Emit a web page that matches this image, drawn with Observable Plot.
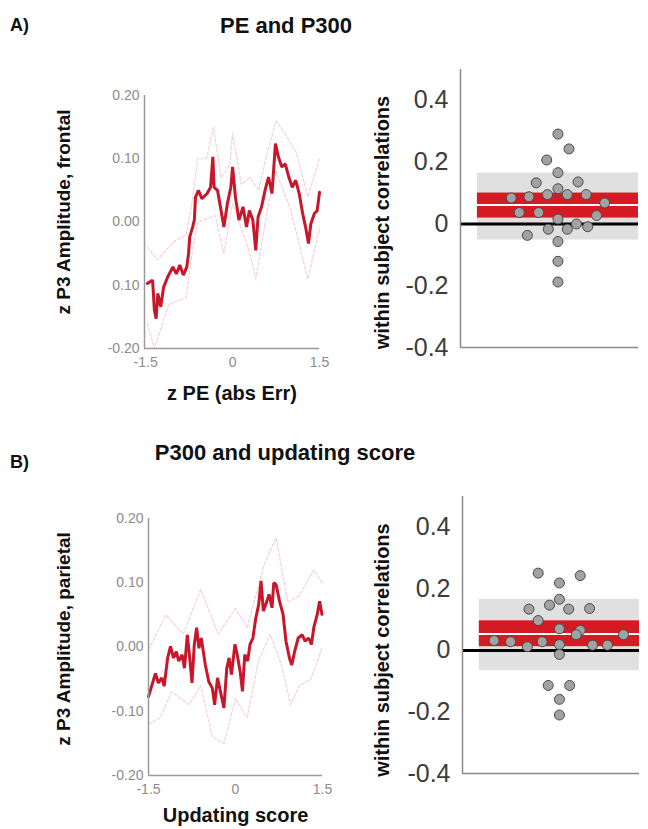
<!DOCTYPE html>
<html>
<head>
<meta charset="utf-8">
<script src="https://cdn.jsdelivr.net/npm/d3@7"></script>
<script src="https://cdn.jsdelivr.net/npm/@observablehq/plot@0.6"></script>
<style>
  html, body { margin: 0; padding: 0; background: #fff; }
  #fig { position: relative; width: 648px; height: 829px; overflow: hidden; font-family: "Liberation Sans", Arial, sans-serif; }
  .panel { position: absolute; }
  .ttl { position: absolute; font-weight: bold; color: #111; white-space: nowrap; line-height: 1; }
</style>
</head>
<body>
<div id="fig"></div>
<script>
// ---------------- DATA ----------------
const titles = ["PE and P300", "P300 and updating score"];
const panelTags = ["A)", "B)"];
const xLabels = ["z PE (abs Err)", "Updating score"];
const yLabelsLeft = ["z P3 Amplitude, frontal", "z P3 Amplitude, parietal"];
const yLabelRight = "within subject correlations";

const xTicksLeft = [-1.5, 0, 1.5];
const xTickLabelsLeft = ["-1.5", "0", "1.5"];
const yTicksLeft = [-0.2, -0.1, 0, 0.1, 0.2];
const yTickLabelsA = ["-0.20", "0.10", "0.00", "0.10", "0.20"];
const yTickLabelsB = ["-0.20", "-0.10", "0.00", "0.10", "0.20"];
const yTicksRight = [-0.4, -0.2, 0, 0.2, 0.4];
const yTickLabelsRight = ["-0.4", "-0.2", "0", "0.2", "0.4"];

// Panel A left: running mean (x = z PE, y = z P3 frontal)
const lineA = [[-1.47,-0.097],[-1.38,-0.092],[-1.35,-0.139],[-1.32,-0.153],[-1.29,-0.113],[-1.24,-0.134],[-1.19,-0.103],[-1.12,-0.087],[-1.03,-0.071],[-0.97,-0.082],[-0.91,-0.068],[-0.85,-0.084],[-0.79,-0.071],[-0.76,-0.05],[-0.74,-0.024],[-0.69,-0.008],[-0.66,0.003],[-0.64,0.039],[-0.59,0.05],[-0.53,0.037],[-0.44,0.045],[-0.38,0.055],[-0.34,0.103],[-0.32,0.055],[-0.26,0.05],[-0.21,0.024],[-0.15,-0.008],[-0.09,0.029],[-0.03,0.055],[0.0,0.087],[0.05,0.039],[0.11,0.003],[0.18,0.024],[0.24,-0.008],[0.29,0.018],[0.35,0.003],[0.40,-0.045],[0.44,0.008],[0.50,0.024],[0.56,0.05],[0.62,0.071],[0.68,0.045],[0.74,0.124],[0.79,0.103],[0.85,0.087],[0.91,0.092],[0.97,0.071],[1.03,0.055],[1.09,0.066],[1.15,0.045],[1.21,0.013],[1.26,-0.008],[1.31,-0.034],[1.35,-0.003],[1.41,0.013],[1.46,0.018],[1.5,0.047]];
const upperA = [[-1.47,-0.04],[-1.3,-0.06],[-1.0,-0.03],[-0.8,-0.02],[-0.7,0.03],[-0.6,0.10],[-0.45,0.10],[-0.33,0.15],[-0.2,0.07],[-0.05,0.09],[0.0,0.14],[0.15,0.06],[0.3,0.07],[0.45,0.05],[0.6,0.11],[0.75,0.16],[0.9,0.14],[1.1,0.11],[1.3,0.04],[1.5,0.10]];
const lowerA = [[-1.47,-0.16],[-1.35,-0.20],[-1.1,-0.13],[-0.8,-0.12],[-0.7,-0.05],[-0.6,0.0],[-0.3,0.01],[-0.15,-0.05],[0.0,0.03],[0.3,-0.05],[0.4,-0.09],[0.6,0.02],[0.75,0.08],[1.0,0.02],[1.3,-0.09],[1.5,-0.01]];

// Panel B left: running mean (x = updating score, y = z P3 parietal)
const lineB = [[-1.5,-0.077],[-1.44,-0.059],[-1.38,-0.041],[-1.33,-0.056],[-1.27,-0.048],[-1.23,-0.061],[-1.17,-0.017],[-1.12,0.001],[-1.07,-0.017],[-1.02,-0.007],[-0.98,-0.022],[-0.92,-0.012],[-0.88,-0.033],[-0.83,0.019],[-0.79,-0.017],[-0.75,-0.056],[-0.71,0.004],[-0.67,0.03],[-0.63,-0.002],[-0.59,0.014],[-0.52,-0.028],[-0.46,-0.054],[-0.40,-0.064],[-0.36,-0.09],[-0.31,-0.048],[-0.26,-0.069],[-0.20,-0.095],[-0.15,-0.033],[-0.11,-0.017],[-0.07,-0.043],[-0.01,0.004],[0.03,-0.012],[0.08,-0.038],[0.12,-0.069],[0.16,-0.012],[0.21,-0.022],[0.25,0.004],[0.30,0.014],[0.35,0.045],[0.40,0.066],[0.44,0.103],[0.48,0.056],[0.54,0.071],[0.58,0.082],[0.63,0.061],[0.66,0.1],[0.70,0.097],[0.76,0.071],[0.82,0.051],[0.87,0.009],[0.93,-0.017],[0.97,-0.028],[1.02,-0.007],[1.08,0.014],[1.15,0.019],[1.20,0.009],[1.26,0.014],[1.31,0.004],[1.35,0.03],[1.41,0.051],[1.45,0.071],[1.49,0.051]];
const upperB = [[-1.5,-0.004],[-1.2,0.05],[-0.9,0.02],[-0.6,0.09],[-0.3,0.02],[0.0,0.06],[0.2,0.03],[0.5,0.13],[0.7,0.17],[0.9,0.07],[1.1,0.08],[1.35,0.12],[1.5,0.10]];
const lowerB = [[-1.5,-0.12],[-1.3,-0.11],[-1.1,-0.07],[-0.8,-0.09],[-0.6,-0.06],[-0.4,-0.14],[-0.2,-0.15],[0.0,-0.08],[0.2,-0.11],[0.4,-0.02],[0.6,0.02],[0.8,-0.03],[0.95,-0.09],[1.1,-0.06],[1.3,-0.05],[1.5,0.0]];

// Right panels: within-subject correlations [jitter offset, r]
const corrA = [[0,0.291],[0.137,0.243],[-0.14,0.207],[0,0.166],[-0.27,0.133],[0,0.114],[0.25,0.136],[-0.58,0.084],[-0.36,0.088],[-0.13,0.095],[0.116,0.095],[0.35,0.095],[0.58,0.068],[-0.48,0.037],[-0.24,0.037],[0,0.016],[0.48,0.027],[-0.12,-0.017],[0.116,-0.017],[0.23,0.0],[0.37,-0.009],[-0.38,-0.037],[0,-0.057],[0,-0.121],[0,-0.188]];
const corrB = [[-0.265,0.251],[0.26,0.243],[0,0.219],[0,0.166],[-0.124,0.147],[-0.38,0.134],[0.116,0.134],[0.377,0.136],[-0.265,0.097],[0,0.070],[0.26,0.065],[0.21,0.051],[-0.816,0.032],[-0.61,0.028],[-0.215,0.028],[0.8,0.051],[-0.40,0.012],[0,0.019],[0.414,0.017],[0.6,0.017],[0,-0.013],[-0.14,-0.114],[0.128,-0.114],[0,-0.159],[0,-0.21]];
// [low, high] of gray band (SD), red band (CI), and mean
const sdBandA = [-0.052, 0.165], ciBandA = [0.019, 0.100], meanA = [0.061];
const sdBandB = [-0.066, 0.166], ciBandB = [0.012, 0.096], meanB = [0.053];

// ---------------- DRAW ----------------
const FONT = '"Liberation Sans", Arial, sans-serif';
const RED = "#c8162b";
const fig = document.getElementById("fig");

function place(node, left, top) {
  const wrap = document.createElement("div");
  wrap.className = "panel";
  wrap.style.left = left + "px";
  wrap.style.top = top + "px";
  wrap.appendChild(node);
  fig.appendChild(wrap);
}
function title(text, left, top, size, center) {
  const d = document.createElement("div");
  d.className = "ttl";
  d.textContent = text;
  d.style.fontSize = size + "px";
  d.style.top = top + "px";
  d.style.left = left + "px";
  if (center) d.style.transform = "translateX(-50%)";
  fig.appendChild(d);
}

function leftPanel(o) {
  const xd = o.xDomain;
  return Plot.plot({
    width: o.width, height: o.height,
    marginLeft: o.ml, marginRight: o.mr, marginTop: o.mt, marginBottom: o.mb,
    x: {domain: xd}, y: {domain: [-0.2, 0.2]},
    style: {fontFamily: FONT, background: "transparent", overflow: "visible"},
    marks: [
      Plot.line(o.upper, {x: d => d[0], y: d => d[1], stroke: "#f7d0d4", strokeWidth: 1.2, strokeDasharray: "3,2"}),
      Plot.line(o.lower, {x: d => d[0], y: d => d[1], stroke: "#f7d0d4", strokeWidth: 1.2, strokeDasharray: "3,2"}),
      Plot.line(o.line, {x: d => d[0], y: d => d[1], stroke: RED, strokeWidth: 3, strokeLinejoin: "miter"}),
      Plot.ruleX([xd[0]], {stroke: "#9a9a9a", strokeWidth: 1.5}),
      Plot.ruleY([-0.2], {stroke: "#9a9a9a", strokeWidth: 1.5}),
      Plot.axisY({ticks: yTicksLeft, tickFormat: d => o.yLabels[yTicksLeft.indexOf(d)], tickSize: 0, tickPadding: 5, fontSize: 14, fill: "#8c8c8c"}),
      Plot.axisX({ticks: xTicksLeft, tickFormat: d => xTickLabelsLeft[xTicksLeft.indexOf(d)], tickSize: 0, tickPadding: 9, fontSize: 14, fill: "#8c8c8c"}),
      Plot.text([o.xLabel], {frameAnchor: "bottom", lineAnchor: "middle", textAnchor: "middle", dy: o.xLabDy, fontSize: 20, fontWeight: "bold", fill: "#111"}),
      Plot.text([o.yLabel], {frameAnchor: "left", textAnchor: "middle", lineAnchor: "middle", rotate: -90, dx: o.yLabDx, dy: o.yLabDy, fontSize: 19, fontWeight: "bold", fill: "#111"})
    ]
  });
}

function rightPanel(o) {
  const xd = [-1.21, 1.0];
  const half = 1;
  return Plot.plot({
    width: o.width, height: o.height,
    marginLeft: o.ml, marginRight: o.mr, marginTop: o.mt, marginBottom: o.mb,
    x: {domain: xd, axis: null}, y: {domain: [-0.4, 0.5]},
    style: {fontFamily: FONT, background: "transparent", overflow: "visible"},
    marks: [
      Plot.rect([o.sd], {x1: () => -half, x2: () => half, y1: d => d[0], y2: d => d[1], fill: "#e0e0e0"}),
      Plot.rect([o.ci], {x1: () => -half, x2: () => half, y1: d => d[0], y2: d => d[1], fill: "#d41a22"}),
      Plot.ruleY(o.mean, {x1: () => -half, x2: () => half, stroke: "#fff", strokeWidth: 2}),
      Plot.ruleY([0], {stroke: "#000", strokeWidth: 3}),
      Plot.dot(o.pts, {x: d => d[0], y: d => d[1], r: 5, fill: "#a2a2a2", stroke: "#4a4a4a", strokeWidth: 1}),
      Plot.ruleX([xd[0]], {stroke: "#8a8a8a", strokeWidth: 1.5}),
      Plot.ruleY([-0.4], {stroke: "#8a8a8a", strokeWidth: 1.5}),
      Plot.axisY({ticks: yTicksRight, tickFormat: d => yTickLabelsRight[yTicksRight.indexOf(d)], tickSize: 0, tickPadding: 12, fontSize: 25, fill: "#3c3c3c"}),
      Plot.text([yLabelRight], {frameAnchor: "left", textAnchor: "middle", lineAnchor: "middle", rotate: -90, dx: o.yLabDx, dy: o.yLabDy, fontSize: 20, fontWeight: "bold", fill: "#111"})
    ]
  });
}

// Titles
title(panelTags[0], 10, 16, 18, false);
title(titles[0], 286, 15, 22, true);
title(panelTags[1], 10, 453, 18, false);
title(titles[1], 285, 442, 22, true);

place(leftPanel({width: 330, height: 350, ml: 144, mr: 11, mt: 35, mb: 62, xDomain: [-1.52, 1.5],
  line: lineA, upper: upperA, lower: lowerA, yLabels: yTickLabelsA,
  xLabel: xLabels[0], xLabDy: 45, yLabel: yLabelsLeft[0], yLabDx: -81, yLabDy: -10}), 0, 60);
place(rightPanel({width: 318, height: 350, ml: 130, mr: 10, mt: 9, mb: 63,
  pts: corrA, sd: sdBandA, ci: ciBandA, mean: meanA, yLabDx: -78, yLabDy: 14}), 330, 60);
place(leftPanel({width: 330, height: 349, ml: 148, mr: 8, mt: 38, mb: 54, xDomain: [-1.5, 1.5],
  line: lineB, upper: upperB, lower: lowerB, yLabels: yTickLabelsB,
  xLabel: xLabels[1], xLabDy: 40, yLabel: yLabelsLeft[1], yLabDx: -85, yLabDy: -8}), 0, 480);
place(rightPanel({width: 318, height: 349, ml: 132, mr: 9, mt: 16, mb: 56,
  pts: corrB, sd: sdBandB, ci: ciBandB, mean: meanB, yLabDx: -80, yLabDy: 15}), 330, 480);
</script>
</body>
</html>
